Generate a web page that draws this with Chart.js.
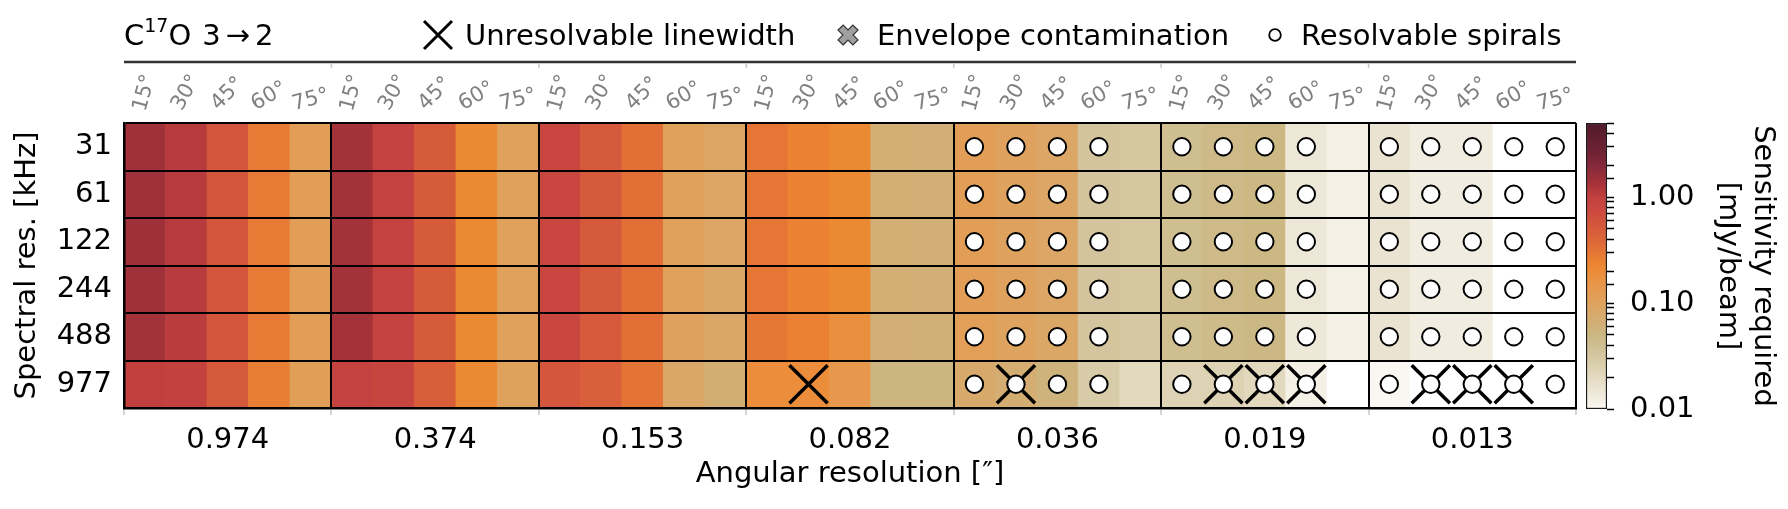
<!DOCTYPE html>
<html>
<head>
<meta charset="utf-8">
<script src="https://cdn.jsdelivr.net/npm/chart.js@4.4.1/dist/chart.umd.min.js"></script>
<style>
  html, body { margin: 0; padding: 0; background: #fff; }
  #wrap { position: relative; width: 1788px; height: 509px; }
  #main { position: absolute; left: 0; top: 0; }
  #cbar { position: absolute; left: 1580px; top: 0; }
</style>
</head>
<body>
<div id="wrap">
  <canvas id="main" width="1788" height="509"></canvas>
  <canvas id="cbar" width="208" height="509"></canvas>
</div>
<script>
// Data

const resolutions = ['0.974', '0.374', '0.153', '0.082', '0.036', '0.019', '0.013'];
const inclinations = [15, 30, 45, 60, 75];
const spectralRes = ['31', '61', '122', '244', '488', '977'];

// sensitivity required [mJy/beam], 5 inclinations per angular resolution
const sens31  = [1.45, 1.12, 0.56, 0.28, 0.115,  1.38, 0.95, 0.50, 0.21, 0.105,  0.83, 0.52, 0.33, 0.105, 0.090,
                 0.30, 0.25, 0.21, 0.066, 0.064,  0.115, 0.100, 0.088, 0.034, 0.032,  0.041, 0.046, 0.049, 0.0145, 0.0117,
                 0.016, 0.013, 0.013, 0.008, 0.008];
const sens61  = [1.45, 1.12, 0.56, 0.28, 0.115,  1.38, 0.95, 0.50, 0.21, 0.105,  0.83, 0.52, 0.33, 0.105, 0.090,
                 0.30, 0.25, 0.21, 0.066, 0.064,  0.115, 0.100, 0.088, 0.034, 0.032,  0.041, 0.046, 0.049, 0.0145, 0.0117,
                 0.016, 0.013, 0.013, 0.008, 0.008];
const sens122 = [1.47, 1.12, 0.56, 0.28, 0.115,  1.38, 0.95, 0.50, 0.21, 0.105,  0.83, 0.52, 0.33, 0.104, 0.088,
                 0.30, 0.25, 0.21, 0.066, 0.064,  0.115, 0.100, 0.088, 0.034, 0.032,  0.041, 0.046, 0.049, 0.0145, 0.0117,
                 0.016, 0.013, 0.013, 0.008, 0.008];
const sens244 = [1.45, 1.10, 0.56, 0.28, 0.115,  1.38, 0.95, 0.50, 0.21, 0.105,  0.82, 0.52, 0.33, 0.104, 0.086,
                 0.30, 0.25, 0.21, 0.066, 0.064,  0.114, 0.100, 0.088, 0.034, 0.032,  0.041, 0.046, 0.049, 0.0145, 0.0117,
                 0.016, 0.013, 0.013, 0.008, 0.008];
const sens488 = [1.38, 1.08, 0.55, 0.28, 0.114,  1.35, 0.94, 0.50, 0.21, 0.104,  0.80, 0.51, 0.33, 0.100, 0.085,
                 0.29, 0.25, 0.18, 0.064, 0.062,  0.112, 0.098, 0.086, 0.033, 0.031,  0.041, 0.045, 0.048, 0.0143, 0.0115,
                 0.016, 0.013, 0.013, 0.008, 0.008];
const sens977 = [1.00, 0.98, 0.52, 0.27, 0.113,  0.95, 0.85, 0.47, 0.21, 0.102,  0.55, 0.45, 0.31, 0.085, 0.068,
                 0.19, 0.19, 0.14, 0.052, 0.052,  0.078, 0.070, 0.056, 0.029, 0.021,  0.024, 0.024, 0.021, 0.0117, 0.008,
                 0.0101, 0.008, 0.008, 0.008, 0.008];

// markers, one string per spectral resolution, 5 flags per angular resolution
const spiralFlags = [
  '00000 00000 00000 00000 11110 11110 11111',
  '00000 00000 00000 00000 11110 11110 11111',
  '00000 00000 00000 00000 11110 11110 11111',
  '00000 00000 00000 00000 11110 11110 11111',
  '00000 00000 00000 00000 11110 11110 11111',
  '00000 00000 00000 00000 11110 11110 11111'
];
const linewidthFlags = [
  '00000 00000 00000 00000 00000 00000 00000',
  '00000 00000 00000 00000 00000 00000 00000',
  '00000 00000 00000 00000 00000 00000 00000',
  '00000 00000 00000 00000 00000 00000 00000',
  '00000 00000 00000 00000 00000 00000 00000',
  '00000 00000 00000 01000 01000 01110 01110'
];

const cbarMin = 0.01;
const cbarMax = 5;
const cbarTickLabels = [0.01, 0.1, 1];

// colour map, position in log space -> colour
const cmapStops = [
  [0.000, '#faf8f3'], [0.025, '#f4f0e6'], [0.084, '#e8e1cd'], [0.142, '#ddd2b2'],
  [0.201, '#d2c39b'], [0.259, '#cbb782'], [0.294, '#d1b078'], [0.341, '#d9a869'],
  [0.387, '#e19f58'], [0.434, '#e8964a'], [0.493, '#ec8933'], [0.516, '#ea8233'],
  [0.574, '#e06c37'], [0.632, '#d65a3b'], [0.690, '#cc4a3f'], [0.737, '#c3413f'],
  [0.784, '#a93339'], [0.854, '#83283a'], [0.901, '#6f2233'], [1.000, '#4f1a2c']
];

function hexToRgb(h) {
  return [parseInt(h.slice(1, 3), 16), parseInt(h.slice(3, 5), 16), parseInt(h.slice(5, 7), 16)];
}

function cmap(v) {
  if (v == null) return 'rgba(0,0,0,0)';
  if (v < cbarMin) return '#ffffff';
  let t = Math.log(v / cbarMin) / Math.log(cbarMax / cbarMin);
  t = Math.min(1, Math.max(0, t));
  for (let i = 1; i < cmapStops.length; i++) {
    const [t1, c1] = cmapStops[i];
    if (t <= t1) {
      const [t0, c0] = cmapStops[i - 1];
      const f = (t - t0) / (t1 - t0);
      const a = hexToRgb(c0), b = hexToRgb(c1);
      const c = a.map((x, k) => Math.round(x + (b[k] - x) * f));
      return `rgb(${c[0]},${c[1]},${c[2]})`;
    }
  }
  return cmapStops[cmapStops.length - 1][1];
}

const FONT = '"DejaVu Sans", sans-serif';
Chart.defaults.font.family = FONT;
Chart.defaults.font.size = 29;
Chart.defaults.color = '#000';

const columns = [];
resolutions.forEach(r => inclinations.forEach(i => columns.push(r + '|' + i)));

const rows = [sens31, sens61, sens122, sens244, sens488, sens977];

const cellSets = rows.map((vals, r) => ({
  type: 'bar',
  label: spectralRes[r],
  xAxisID: 'x',
  yAxisID: 'y',
  order: 3,
  grouped: false,
  data: vals.map(() => [r, r + 1]),
  backgroundColor: vals.map(cmap),
  borderWidth: 0,
  categoryPercentage: 1,
  barPercentage: 1
}));

function marks(flags) {
  const pts = [];
  flags.forEach((s, r) => {
    s.replace(/ /g, '').split('').forEach((f, c) => {
      if (f === '1') pts.push({ x: columns[c], y: r + 0.5 });
    });
  });
  return pts;
}

const crossSet = {
  type: 'scatter',
  label: 'Unresolvable linewidth',
  xAxisID: 'x',
  yAxisID: 'y',
  order: 2,
  data: marks(linewidthFlags),
  pointStyle: 'crossRot',
  pointRadius: 27,
  pointHoverRadius: 27,
  pointBorderWidth: 3.5,
  pointBorderColor: '#000'
};

const spiralSet = {
  type: 'scatter',
  label: 'Resolvable spirals',
  xAxisID: 'x',
  yAxisID: 'y',
  order: 1,
  data: marks(spiralFlags),
  pointStyle: 'circle',
  pointRadius: 8.7,
  pointHoverRadius: 8.7,
  pointBackgroundColor: '#fff',
  pointBorderColor: '#000',
  pointBorderWidth: 2
};

// title, legend row and inclination labels above the heatmap
const decorPlugin = {
  id: 'decor',
  afterDraw(chart) {
    const { ctx, chartArea: a } = chart;
    const xs = chart.scales.x;
    ctx.save();

    // inclination labels, rotated by 90 - angle
    ctx.fillStyle = '#808080';
    ctx.font = '21px ' + FONT;
    ctx.textAlign = 'center';
    ctx.textBaseline = 'middle';
    columns.forEach((c, i) => {
      const inc = inclinations[i % inclinations.length];
      const txt = inc + '°';
      const rot = (90 - inc) * Math.PI / 180;
      const w = ctx.measureText(txt).width, h = 21 * 0.8;
      const bh = w * Math.sin(rot) + h * Math.cos(rot);
      ctx.save();
      ctx.translate(xs.getPixelForValue(i), a.top - 10 - bh / 2);
      ctx.rotate(-rot);
      ctx.fillText(txt, 0, 0);
      ctx.restore();
    });

    // line under the legend
    const lineY = 62;
    ctx.strokeStyle = '#333';
    ctx.lineWidth = 2.5;
    ctx.beginPath();
    ctx.moveTo(a.left, lineY);
    ctx.lineTo(a.right, lineY);
    ctx.stroke();
    ctx.strokeStyle = '#c8c8c8';
    ctx.lineWidth = 1.5;
    for (let g = 1; g < resolutions.length; g++) {
      const gx = a.left + g * (a.right - a.left) / resolutions.length;
      ctx.beginPath();
      ctx.moveTo(gx, lineY + 1);
      ctx.lineTo(gx, lineY + 6);
      ctx.stroke();
    }

    // title: C17O 3-2
    const base = 45;
    ctx.fillStyle = '#000';
    ctx.textAlign = 'left';
    ctx.textBaseline = 'alphabetic';
    let tx = a.left;
    ctx.font = '29px ' + FONT;
    ctx.fillText('C', tx, base);
    tx += ctx.measureText('C').width;
    ctx.font = '19px ' + FONT;
    ctx.fillText('17', tx, base - 13);
    tx += ctx.measureText('17').width;
    ctx.font = '29px ' + FONT;
    ctx.fillText('O', tx, base);
    tx += ctx.measureText('O').width + 11;
    ctx.fillText('3', tx, base);
    tx += ctx.measureText('3').width + 5;
    ctx.fillText('→', tx, base);
    tx += ctx.measureText('→').width + 5;
    ctx.fillText('2', tx, base);

    // legend: unresolvable linewidth
    ctx.strokeStyle = '#000';
    ctx.lineWidth = 3;
    ctx.beginPath();
    ctx.moveTo(438 - 14, 35 - 14); ctx.lineTo(438 + 14, 35 + 14);
    ctx.moveTo(438 + 14, 35 - 14); ctx.lineTo(438 - 14, 35 + 14);
    ctx.stroke();
    ctx.fillText('Unresolvable linewidth', 465, base);

    // legend: envelope contamination (filled X)
    const ex = 848, ey = 35, L = 10.5, t = 3.6;
    const plus = [[t, L], [t, t], [L, t], [L, -t], [t, -t], [t, -L], [-t, -L], [-t, -t], [-L, -t], [-L, t], [-t, t], [-t, L]];
    const c45 = Math.SQRT1_2;
    ctx.beginPath();
    plus.forEach(([px, py], k) => {
      const rx = ex + (px - py) * c45, ry = ey + (px + py) * c45;
      if (k === 0) ctx.moveTo(rx, ry); else ctx.lineTo(rx, ry);
    });
    ctx.closePath();
    ctx.fillStyle = '#a0a0a0';
    ctx.fill();
    ctx.strokeStyle = '#333';
    ctx.lineWidth = 1.2;
    ctx.stroke();
    ctx.fillStyle = '#000';
    ctx.fillText('Envelope contamination', 877, base);

    // legend: resolvable spirals
    ctx.beginPath();
    ctx.arc(1275, 35, 5.8, 0, Math.PI * 2);
    ctx.fillStyle = '#fff';
    ctx.fill();
    ctx.strokeStyle = '#000';
    ctx.lineWidth = 1.8;
    ctx.stroke();
    ctx.fillStyle = '#000';
    ctx.fillText('Resolvable spirals', 1301, base);

    ctx.restore();
  }
};

new Chart(document.getElementById('main'), {
  type: 'bar',
  data: {
    labels: columns,
    datasets: [spiralSet, crossSet, ...cellSets]
  },
  options: {
    responsive: false,
    animation: false,
    events: [],
    layout: { padding: { left: 0, top: 123, right: 212, bottom: 0 } },
    plugins: { legend: { display: false }, tooltip: { enabled: false } },
    scales: {
      x: { type: 'category', labels: columns, display: false, offset: true },
      y: { type: 'linear', min: 0, max: 6, reverse: true, display: false },
      x2: {
        type: 'category',
        labels: resolutions,
        position: 'bottom',
        offset: true,
        afterFit: s => { s.height = 101; },
        grid: { offset: true, color: '#000', lineWidth: 2, z: 1, tickColor: '#c8c8c8', tickLength: 7, tickWidth: 1.5 },
        border: { color: '#000', width: 2.5, z: 1 },
        ticks: { padding: 8, color: '#000' },
        title: { display: true, text: 'Angular resolution [″]', padding: { top: 0, bottom: 17 } }
      },
      yLab: {
        type: 'category',
        labels: spectralRes,
        position: 'left',
        offset: true,
        afterFit: s => { s.width = 124; },
        grid: { offset: true, color: '#000', lineWidth: 2, z: 1, drawTicks: false },
        border: { color: '#000', width: 2.5, z: 1 },
        ticks: { padding: 12, color: '#000' },
        title: { display: true, text: 'Spectral res. [kHz]', padding: { top: 10, bottom: 0 } }
      }
    }
  },
  plugins: [decorPlugin]
});

// colour bar
function cbarGradient(context) {
  const chart = context.chart;
  const area = chart.chartArea;
  if (!area) return null;
  const g = chart.ctx.createLinearGradient(0, area.bottom, 0, area.top);
  cmapStops.forEach(([t, c]) => g.addColorStop(t, c));
  return g;
}

new Chart(document.getElementById('cbar'), {
  type: 'bar',
  data: {
    labels: [''],
    datasets: [{
      data: [[cbarMin, cbarMax]],
      backgroundColor: cbarGradient,
      borderColor: '#1a1a1a',
      borderWidth: 1.5,
      borderSkipped: false,
      categoryPercentage: 1,
      barPercentage: 1
    }]
  },
  options: {
    responsive: false,
    animation: false,
    events: [],
    layout: { padding: { left: 6, top: 123, right: 0, bottom: 100 } },
    plugins: { legend: { display: false }, tooltip: { enabled: false } },
    scales: {
      x: { display: false },
      y: {
        type: 'logarithmic',
        position: 'right',
        min: cbarMin,
        max: cbarMax,
        afterFit: s => { s.width = 181; },
        grid: { drawOnChartArea: false, tickLength: 7, tickWidth: 1.5, tickColor: '#000' },
        border: { display: false },
        ticks: {
          autoSkip: false,
          padding: 16,
          color: '#000',
          callback: v => cbarTickLabels.some(t => Math.abs(t - v) < 1e-9) ? v.toFixed(2) : ''
        },
        title: {
          display: true,
          text: ['Sensitivity required', '[mJy/beam]'],
          padding: { top: 8, bottom: 0 }
        }
      }
    }
  }
});
</script>
</body>
</html>
